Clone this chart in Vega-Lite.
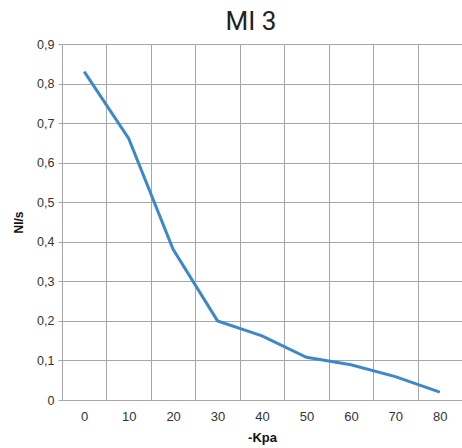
{
  "$schema": "https://vega.github.io/schema/vega-lite/v6.json",
  "width": 400,
  "height": 356,
  "autosize": {"type": "none"},
  "padding": {"left": 62, "top": 44, "right": 0, "bottom": 48},
  "background": "white",
  "title": {
    "text": "MI 3",
    "font": "Roboto",
    "fontWeight": "normal",
    "fontSize": 26,
    "color": "#222222",
    "anchor": "middle",
    "dx": -11,
    "offset": 3
  },
  "config": {
    "view": {"stroke": null},
    "axis": {
      "labelFont": "Liberation Sans",
      "titleFont": "Liberation Sans",
      "labelColor": "#333333",
      "titleColor": "#111111",
      "gridColor": "#a6a6a6",
      "gridOpacity": 1,
      "domainColor": "#a6a6a6",
      "tickColor": "#a6a6a6"
    }
  },
  "data": {
    "values": [
      {"kpa": "0", "nls": 0.83},
      {"kpa": "10", "nls": 0.661},
      {"kpa": "20", "nls": 0.381},
      {"kpa": "30", "nls": 0.2},
      {"kpa": "40", "nls": 0.162},
      {"kpa": "50", "nls": 0.108},
      {"kpa": "60", "nls": 0.089},
      {"kpa": "70", "nls": 0.059},
      {"kpa": "80", "nls": 0.02}
    ]
  },
  "mark": {"type": "line", "color": "#3d88c9", "strokeWidth": 3},
  "encoding": {
    "x": {
      "field": "kpa",
      "type": "ordinal",
      "sort": null,
      "scale": {"type": "band", "paddingInner": 0, "paddingOuter": 0},
      "axis": {
        "title": "-Kpa",
        "titleFontSize": 13,
        "titleFontWeight": "bold",
        "labelFontSize": 13,
        "labelAngle": 0,
        "labelPadding": 10,
        "titlePadding": 8,
        "ticks": false,
        "tickBand": "extent",
        "grid": true
      }
    },
    "y": {
      "field": "nls",
      "type": "quantitative",
      "scale": {"domain": [0, 0.9], "nice": false},
      "axis": {
        "title": "Nl/s",
        "titleFontSize": 12,
        "titleFontWeight": "bold",
        "labelFontSize": 12.5,
        "values": [0, 0.1, 0.2, 0.3, 0.4, 0.5, 0.6, 0.7, 0.8, 0.9],
        "labelExpr": "datum.value == 0 ? '0' : replace(format(datum.value, '.1f'), '.', ',')",
        "tickSize": 4,
        "labelPadding": 4,
        "titlePadding": 11,
        "grid": true
      }
    }
  }
}
